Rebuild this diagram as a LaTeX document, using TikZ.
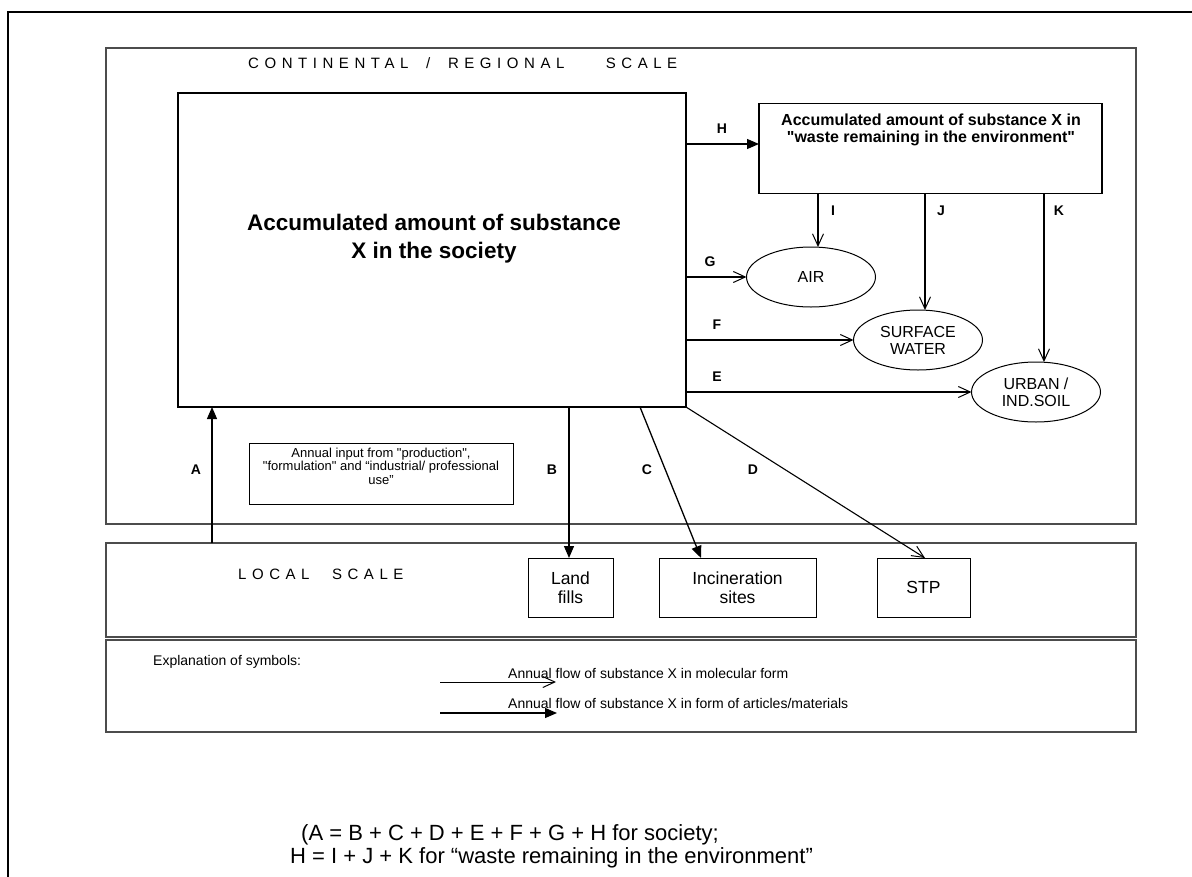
\documentclass[tikz,border=0pt]{standalone}
\usepackage{fontspec}
\newfontfamily\arial{Liberation Sans}
\usetikzlibrary{arrows.meta,shapes.geometric}
\newcommand\fsz[2]{\arial\fontsize{#1bp}{#2bp}\selectfont}
\tikzset{
  region/.style={draw=black!70, line width=1.3bp, inner sep=0, outer sep=0},
  frame/.style={draw, line width=1.3bp, inner sep=0, outer sep=0},
  thinbox/.style={draw, line width=1bp, inner sep=0, outer sep=0, align=center},
  site/.style={thinbox, minimum height=59bp, font=\fsz{17.5}{19}},
  pool/.style={draw, ellipse, line width=1bp, minimum width=129bp, minimum height=60bp,
    inner sep=0, outer sep=0, align=center, font=\fsz{16}{17}},
  mol/.style={line width=1.1bp, -{Straight Barb[length=12bp,width=11bp,line width=1bp]}},
  art/.style={line width=1.3bp, -{Triangle[length=12bp,width=10bp]}},
  tag/.style={font=\bfseries\fsz{14}{16}, inner sep=0},
  plain/.style={anchor=west, inner sep=0},
  spaced/.style={plain, font=\fsz{15}{17}\addfontfeature{LetterSpace=37}}
}
\begin{document}
\begin{tikzpicture}[x=1bp,y=-1bp]
\useasboundingbox (0,0) rectangle (1192,877);
\clip (0,0) rectangle (1192,877);
\fill[white] (0,0) rectangle (1192,877);

% page frame
\draw[line width=2bp] (1260,11.5) -- (7.5,11.5) -- (7.5,960);

% scale regions
\node[region, minimum width=1030bp, minimum height=476bp] (cont) at (621,286) {};
\node[region, minimum width=1030bp, minimum height=94bp] (local) at (621,590) {};
\node[region, minimum width=1030bp, minimum height=92bp] (legend) at (621,686) {};

\node[spaced] (conttitle) at (248,63)
  {CONTINENTAL \hspace{8bp}/\hspace{8bp} REGIONAL \hspace{22bp} SCALE};
\node[spaced] (localtitle) at (238,574)
  {LOCAL \hspace{3bp} SCALE};

% compartments
\node[frame, minimum width=508bp, minimum height=314bp] (society) at (432,250) {};
\node[font=\bfseries\fsz{22.5}{28}, align=center, inner sep=0] (soctext) at (434,239)
  {Accumulated amount of substance\\X in the society};
\node[frame, minimum width=343bp, minimum height=90bp] (waste) at (930.5,148.5) {};
\node[font=\bfseries\fsz{16}{17}, align=center, inner sep=0] (wastetext) at (931,130)
  {Accumulated amount of substance X in\\"waste remaining in the environment"};

\node[pool] (air) at (811,277) {AIR};
\node[pool] (water) at (918,340) {SURFACE\\WATER};
\node[pool] (soil) at (1036,392) {URBAN /\\IND.SOIL};

\node[thinbox, minimum width=264bp, minimum height=61bp] (input) at (381,473.5) {};
\node[font=\fsz{13}{13.5}, align=center, inner sep=0] (inputtext) at (381,466)
  {Annual input from "production",\\"formulation" and “industrial/ professional\\use”};

\node[site, minimum width=85bp] (landfill) at (570.5,587.5) {Land\\fills};
\node[site, minimum width=157bp] (incin) at (737.5,587.5) {Incineration\\sites};
\node[site, minimum width=93bp] (stp) at (923.5,587.5) {STP};

% flow positions
\coordinate (hy) at (0,144);
\coordinate (ix) at (818,0);
\coordinate (jx) at (925,0);
\coordinate (kx) at (1044,0);
\coordinate (ax) at (212,0);
\coordinate (bx) at (569,0);
\coordinate (cx0) at (640,0);
\coordinate (cx1) at (701,0);
\coordinate (dx) at (925,0);

% flows
\draw[art] (society.east |- hy) -- (waste.west |- hy);
\draw[mol] (waste.south -| ix) -- (air.north -| ix);
\draw[mol] (waste.south -| jx) -- (water.north -| jx);
\draw[mol] (waste.south -| kx) -- (soil.north -| kx);
\draw[mol] (society.east |- air.west) -- (air.west);
\draw[mol] (society.east |- water.west) -- (water.west);
\draw[mol] (society.east |- soil.west) -- (soil.west);
\draw[art] (local.north -| ax) -- (society.south -| ax);
\draw[art] (society.south -| bx) -- (landfill.north -| bx);
\draw[art] (society.south -| cx0) -- (incin.north -| cx1);
\draw[mol] (society.south east) -- (stp.north -| dx);

% flow labels
\node[tag] (tH) at (722,129) {H};
\node[tag] (tI) at (833,211) {I};
\node[tag] (tJ) at (941,211) {J};
\node[tag] (tK) at (1059,211) {K};
\node[tag] (tG) at (710,262) {G};
\node[tag] (tF) at (717,325) {F};
\node[tag] (tE) at (717,377) {E};
\node[tag] (tA) at (196,470) {A};
\node[tag] (tB) at (552,470) {B};
\node[tag] (tC) at (647,470) {C};
\node[tag] (tD) at (753,470) {D};

% legend
\node[plain, font=\fsz{14}{16}] (legtitle) at (153,662) {Explanation of symbols:};
\coordinate (m0) at (440,682);
\coordinate (m1) at (556,682);
\coordinate (a0) at (440,713);
\coordinate (a1) at (557,713);
\draw[mol, line width=0.8bp] (m0) -- (m1);
\draw[art, line width=1.2bp] (a0) -- (a1);
\node[plain, font=\fsz{14}{16}] (legmol) at (508,673) {Annual flow of substance X in molecular form};
\node[plain, font=\fsz{14}{16}] (legart) at (508,703) {Annual flow of substance X in form of articles/materials};

% balance equations
\node[plain, font=\fsz{22}{25}] (eq1) at (301,835) {(A = B + C + D + E + F + G + H for society;};
\node[plain, font=\fsz{22}{25}] (eq2) at (290,858) {H = I + J + K for “waste remaining in the environment”};
\end{tikzpicture}
\end{document}
